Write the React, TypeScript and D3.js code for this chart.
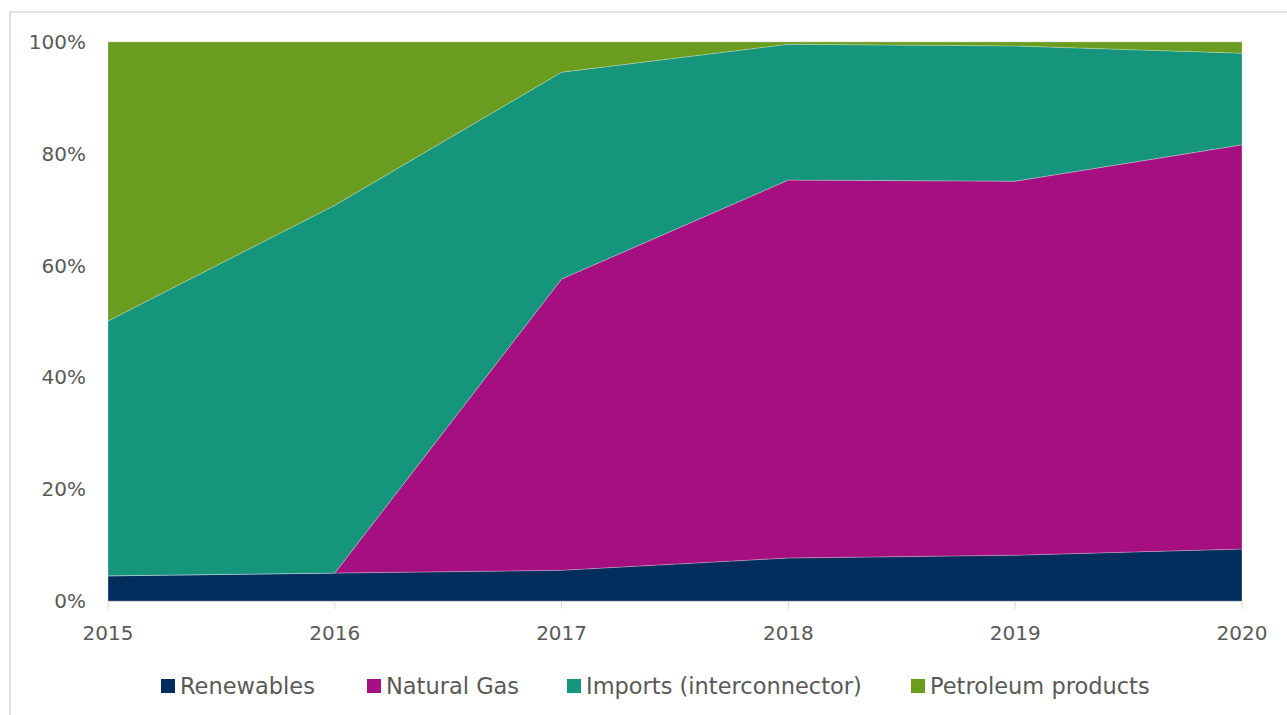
import React from "react";
import * as d3 from "d3";

const years = [2015, 2016, 2017, 2018, 2019, 2020];
const renewables = [4.5, 5.0, 5.5, 7.7, 8.2, 9.3];
const naturalGas = [0, 0, 52.1, 67.6, 66.9, 72.3];
const imports = [45.6, 65.8, 37.0, 24.3, 24.2, 16.4];
const petroleum = [49.9, 29.2, 5.4, 0.4, 0.7, 2.0];
const seriesNames = ["Renewables", "Natural Gas", "Imports (interconnector)", "Petroleum products"];
const seriesColors = ["#032D5C", "#A50F7F", "#16957D", "#6A9C1F"];
const yTicks = [0, 20, 40, 60, 80, 100];

const W = 1287;
const H = 715;
const plot = { left: 108, right: 1242, top: 42, bottom: 601 };
const FONT = "'DejaVu Sans', sans-serif";
const TEXT = "#595959";

export default function App() {
  const x = d3.scaleLinear().domain([2015, 2020]).range([plot.left, plot.right]);
  const y = d3.scaleLinear().domain([0, 100]).range([plot.bottom, plot.top]);

  const rows = years.map((yr, i) => ({
    year: yr,
    "Renewables": renewables[i],
    "Natural Gas": naturalGas[i],
    "Imports (interconnector)": imports[i],
    "Petroleum products": petroleum[i],
  }));
  const stack = d3.stack<any>().keys(seriesNames).offset(d3.stackOffsetExpand);
  const layers = stack(rows);
  const area = d3
    .area<any>()
    .x((d) => x(d.data.year))
    .y0((d) => y(d[0] * 100))
    .y1((d) => y(d[1] * 100));

  const legendX = [161, 367, 567, 911];

  return (
    <svg
      width={W}
      height={H}
      style={{ position: "absolute", left: 0, top: 0, display: "block", background: "#fff" }}
      fontFamily={FONT}
    >
      <rect x={10} y={12} width={W + 20} height={H + 20} fill="#fff" stroke="#d9d9d9" strokeWidth={1.5} />
      <line x1={plot.left} x2={plot.right} y1={y(100)} y2={y(100)} stroke="#d9d9d9" strokeWidth={1} />
      {layers.map((layer, i) => (
        <path key={layer.key} d={area(layer) || ""} fill={seriesColors[i]} stroke="rgba(255,255,255,0.35)" strokeWidth={0.7} />
      ))}
      <line x1={plot.left} x2={plot.right} y1={plot.bottom + 0.5} y2={plot.bottom + 0.5} stroke="#d9d9d9" strokeWidth={1} />
      {years.map((yr) => (
        <line key={"t" + yr} x1={x(yr)} x2={x(yr)} y1={plot.bottom} y2={plot.bottom + 8} stroke="#d9d9d9" strokeWidth={1} />
      ))}
      {yTicks.map((t) => (
        <text key={"y" + t} x={86} y={y(t)} textAnchor="end" dominantBaseline="central" fontSize={20} fill={TEXT}>
          {t}%
        </text>
      ))}
      {years.map((yr) => (
        <text key={"x" + yr} x={x(yr)} y={633} textAnchor="middle" dominantBaseline="central" fontSize={20} fill={TEXT}>
          {yr}
        </text>
      ))}
      {seriesNames.map((name, i) => (
        <g key={name}>
          <rect x={legendX[i]} y={679} width={14} height={14} fill={seriesColors[i]} />
          <text x={legendX[i] + 19} y={686} dominantBaseline="central" fontSize={22.5} fill={TEXT}>
            {name}
          </text>
        </g>
      ))}
    </svg>
  );
}
